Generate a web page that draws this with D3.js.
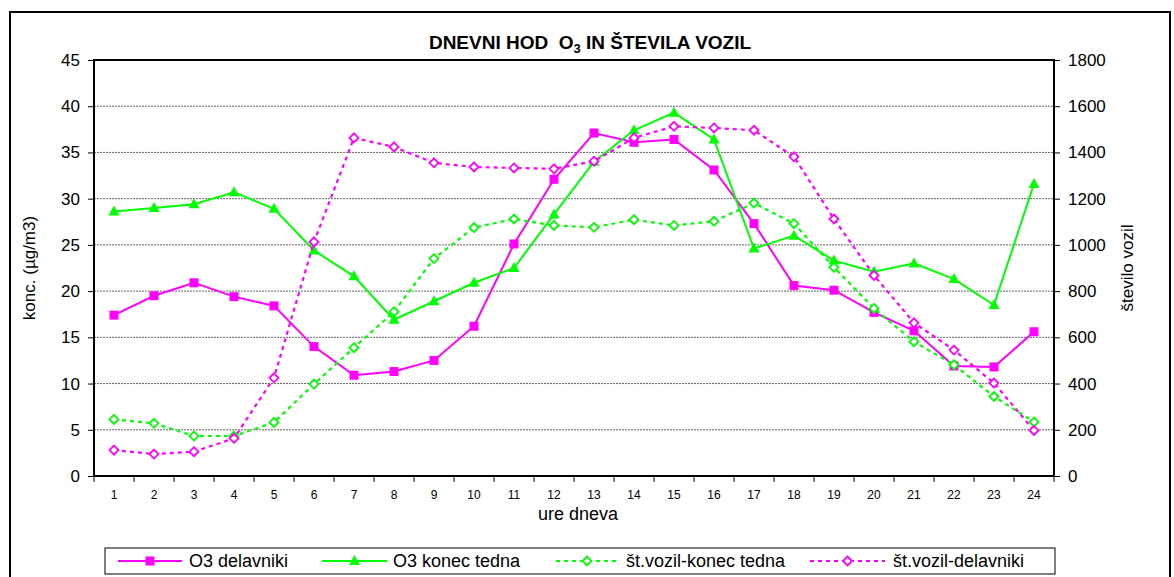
<!DOCTYPE html>
<meta charset="utf-8">
<style>
body { margin: 0; background: #fff; }
svg { font-family: Arial, "Liberation Sans", sans-serif; }
</style>
<svg width="1174" height="577"></svg>
<script src="https://d3js.org/d3.v7.min.js"></script>
<script>

// ure dneva 1..24
var hours = d3.range(1, 25);

// O3 (µg/m3), leva os
var o3Delavniki = [17.4, 19.5, 20.9, 19.4, 18.4, 14.0, 10.9, 11.3, 12.5, 16.2, 25.1, 32.1,
                   37.1, 36.1, 36.4, 33.1, 27.3, 20.6, 20.1, 17.7, 15.7, 11.9, 11.8, 15.6];
var o3Vikend = [28.6, 29.0, 29.4, 30.7, 28.9, 24.4, 21.6, 16.9, 18.9, 20.9, 22.5, 28.3,
                34.0, 37.4, 39.3, 36.4, 24.6, 26.0, 23.3, 22.1, 23.0, 21.3, 18.5, 31.6];

// število vozil, desna os
var voziVikend = [245, 228, 173, 173, 232, 398, 555, 711, 941, 1075, 1112, 1084,
                  1076, 1109, 1084, 1102, 1181, 1092, 903, 725, 581, 481, 344, 234];
var voziDelavniki = [112, 95, 105, 163, 425, 1013, 1463, 1424, 1355, 1337, 1333, 1329,
                     1362, 1463, 1513, 1506, 1496, 1381, 1112, 868, 663, 545, 402, 197];

var leftTicks = d3.range(0, 46, 5);
var rightTicks = d3.range(0, 1801, 200);

var MAG = "#ff00ff", GRN = "#00ff00";

var svg = d3.select("svg");

// okvir grafikona
svg.append("rect")
    .attr("x", 10).attr("y", 12)
    .attr("width", 1160).attr("height", 580)
    .attr("fill", "none").attr("stroke", "#000").attr("stroke-width", 2);

var L = 94, R = 1054, T = 60, B = 476;

var x = d3.scaleBand().domain(hours).range([L, R]);
var yL = d3.scaleLinear().domain([0, 45]).range([B, T]);
var yR = d3.scaleLinear().domain([0, 1800]).range([B, T]);

// mreža
svg.append("g")
  .selectAll("line")
  .data(leftTicks.filter(function(d) { return d > 0 && d < 45; }))
  .enter().append("line")
    .attr("x1", L).attr("x2", R)
    .attr("y1", function(d) { return yL(d); })
    .attr("y2", function(d) { return yL(d); })
    .attr("stroke", "#666").attr("stroke-width", 1)
    .attr("stroke-dasharray", "2,1");

// osi
var axL = svg.append("g")
    .attr("transform", "translate(" + L + ",0)")
    .call(d3.axisLeft(yL).tickValues(leftTicks).tickSize(6).tickPadding(8));
var axR = svg.append("g")
    .attr("transform", "translate(" + R + ",0)")
    .call(d3.axisRight(yR).tickValues(rightTicks).tickFormat(d3.format("d")).tickSize(6).tickPadding(8));
var axX = svg.append("g")
    .attr("transform", "translate(0," + B + ")")
    .call(d3.axisBottom(x).tickSize(0).tickPadding(14));

[axL, axR, axX].forEach(function(a) {
  a.select(".domain").remove();
  a.selectAll("text").attr("fill", "#000").style("font-family", "Arial, 'Liberation Sans', sans-serif");
  a.selectAll("line").attr("stroke", "#000");
});
axL.selectAll("text").attr("font-size", 17);
axR.selectAll("text").attr("font-size", 17);
axX.selectAll("text").attr("font-size", 12);

// kljukice med kategorijami
svg.append("g")
  .selectAll("line")
  .data(d3.range(0, 25))
  .enter().append("line")
    .attr("x1", function(i) { return L + i * x.step(); })
    .attr("x2", function(i) { return L + i * x.step(); })
    .attr("y1", B).attr("y2", B + 6)
    .attr("stroke", "#000");

// okvir risalne površine
svg.append("rect")
    .attr("x", L).attr("y", T)
    .attr("width", R - L).attr("height", B - T)
    .attr("fill", "none").attr("stroke", "#000").attr("stroke-width", 2);

function cx(d, i) { return x(hours[i]) + x.bandwidth() / 2; }

function series(data, yScale, color, dash, marker) {
  var line = d3.line()
      .x(function(d, i) { return cx(d, i); })
      .y(function(d) { return yScale(d); });
  svg.append("path")
      .datum(data)
      .attr("d", line)
      .attr("fill", "none")
      .attr("stroke", color)
      .attr("stroke-width", dash ? 2.2 : 2)
      .attr("stroke-dasharray", dash || null);
  var g = svg.append("g");
  g.selectAll("path")
    .data(data)
    .enter().append("path")
      .attr("transform", function(d, i) { return "translate(" + cx(d, i) + "," + yScale(d) + ")"; })
      .attr("d", marker.d)
      .attr("fill", marker.fill ? color : "#fff")
      .attr("stroke", color)
      .attr("stroke-width", marker.fill ? 0 : 1.8);
}

var square = { d: "M-4.5,-4.5H4.5V4.5H-4.5Z", fill: true };
var triangle = { d: "M0,-6L5.5,4H-5.5Z", fill: true };
var diamond = { d: "M0,-4.5L4.5,0L0,4.5L-4.5,0Z", fill: false };

series(o3Delavniki, yL, MAG, null, square);
series(o3Vikend, yL, GRN, null, triangle);
series(voziVikend, yR, GRN, "4,4", diamond);
series(voziDelavniki, yR, MAG, "4,4", diamond);

// naslov
var title = svg.append("text")
    .attr("x", 590).attr("y", 49)
    .attr("text-anchor", "middle")
    .attr("font-size", 19).attr("font-weight", "bold");
title.append("tspan").text("DNEVNI HOD\u00a0\u00a0O");
title.append("tspan").attr("font-size", 13).attr("dy", 4).text("3");
title.append("tspan").attr("dy", -4).text(" IN ŠTEVILA VOZIL");

// naslovi osi
svg.append("text")
    .attr("transform", "translate(35,268) rotate(-90)")
    .attr("text-anchor", "middle").attr("font-size", 17)
    .text("konc. (µg/m3)");
svg.append("text")
    .attr("transform", "translate(1133,268) rotate(-90)")
    .attr("text-anchor", "middle").attr("font-size", 17)
    .text("število vozil");
svg.append("text")
    .attr("x", 578).attr("y", 520)
    .attr("text-anchor", "middle").attr("font-size", 18)
    .text("ure dneva");

// legenda
svg.append("rect")
    .attr("x", 105).attr("y", 548)
    .attr("width", 950).attr("height", 26)
    .attr("fill", "#fff").attr("stroke", "#000").attr("stroke-width", 1);

var legend = [
  { name: "O3 delavniki", color: MAG, dash: null, marker: square, x0: 118, x1: 182, tx: 189 },
  { name: "O3 konec tedna", color: GRN, dash: null, marker: triangle, x0: 322, x1: 387, tx: 393 },
  { name: "št.vozil-konec tedna", color: GRN, dash: "4,4", marker: diamond, x0: 556, x1: 618, tx: 626 },
  { name: "št.vozil-delavniki", color: MAG, dash: "4,4", marker: diamond, x0: 810, x1: 885, tx: 893 }
];
var lg = svg.selectAll(".leg").data(legend).enter().append("g").attr("class", "leg");
lg.append("line")
    .attr("x1", function(d) { return d.x0; })
    .attr("x2", function(d) { return d.x1; })
    .attr("y1", 561).attr("y2", 561)
    .attr("stroke", function(d) { return d.color; })
    .attr("stroke-width", 2.2)
    .attr("stroke-dasharray", function(d) { return d.dash; });
lg.append("path")
    .attr("transform", function(d) { return "translate(" + (d.x0 + d.x1) / 2 + ",561)"; })
    .attr("d", function(d) { return d.marker.d; })
    .attr("fill", function(d) { return d.marker.fill ? d.color : "#fff"; })
    .attr("stroke", function(d) { return d.color; })
    .attr("stroke-width", function(d) { return d.marker.fill ? 0 : 1.8; });
lg.append("text")
    .attr("x", function(d) { return d.tx; })
    .attr("y", 567)
    .attr("font-size", 18)
    .text(function(d) { return d.name; });

</script>
